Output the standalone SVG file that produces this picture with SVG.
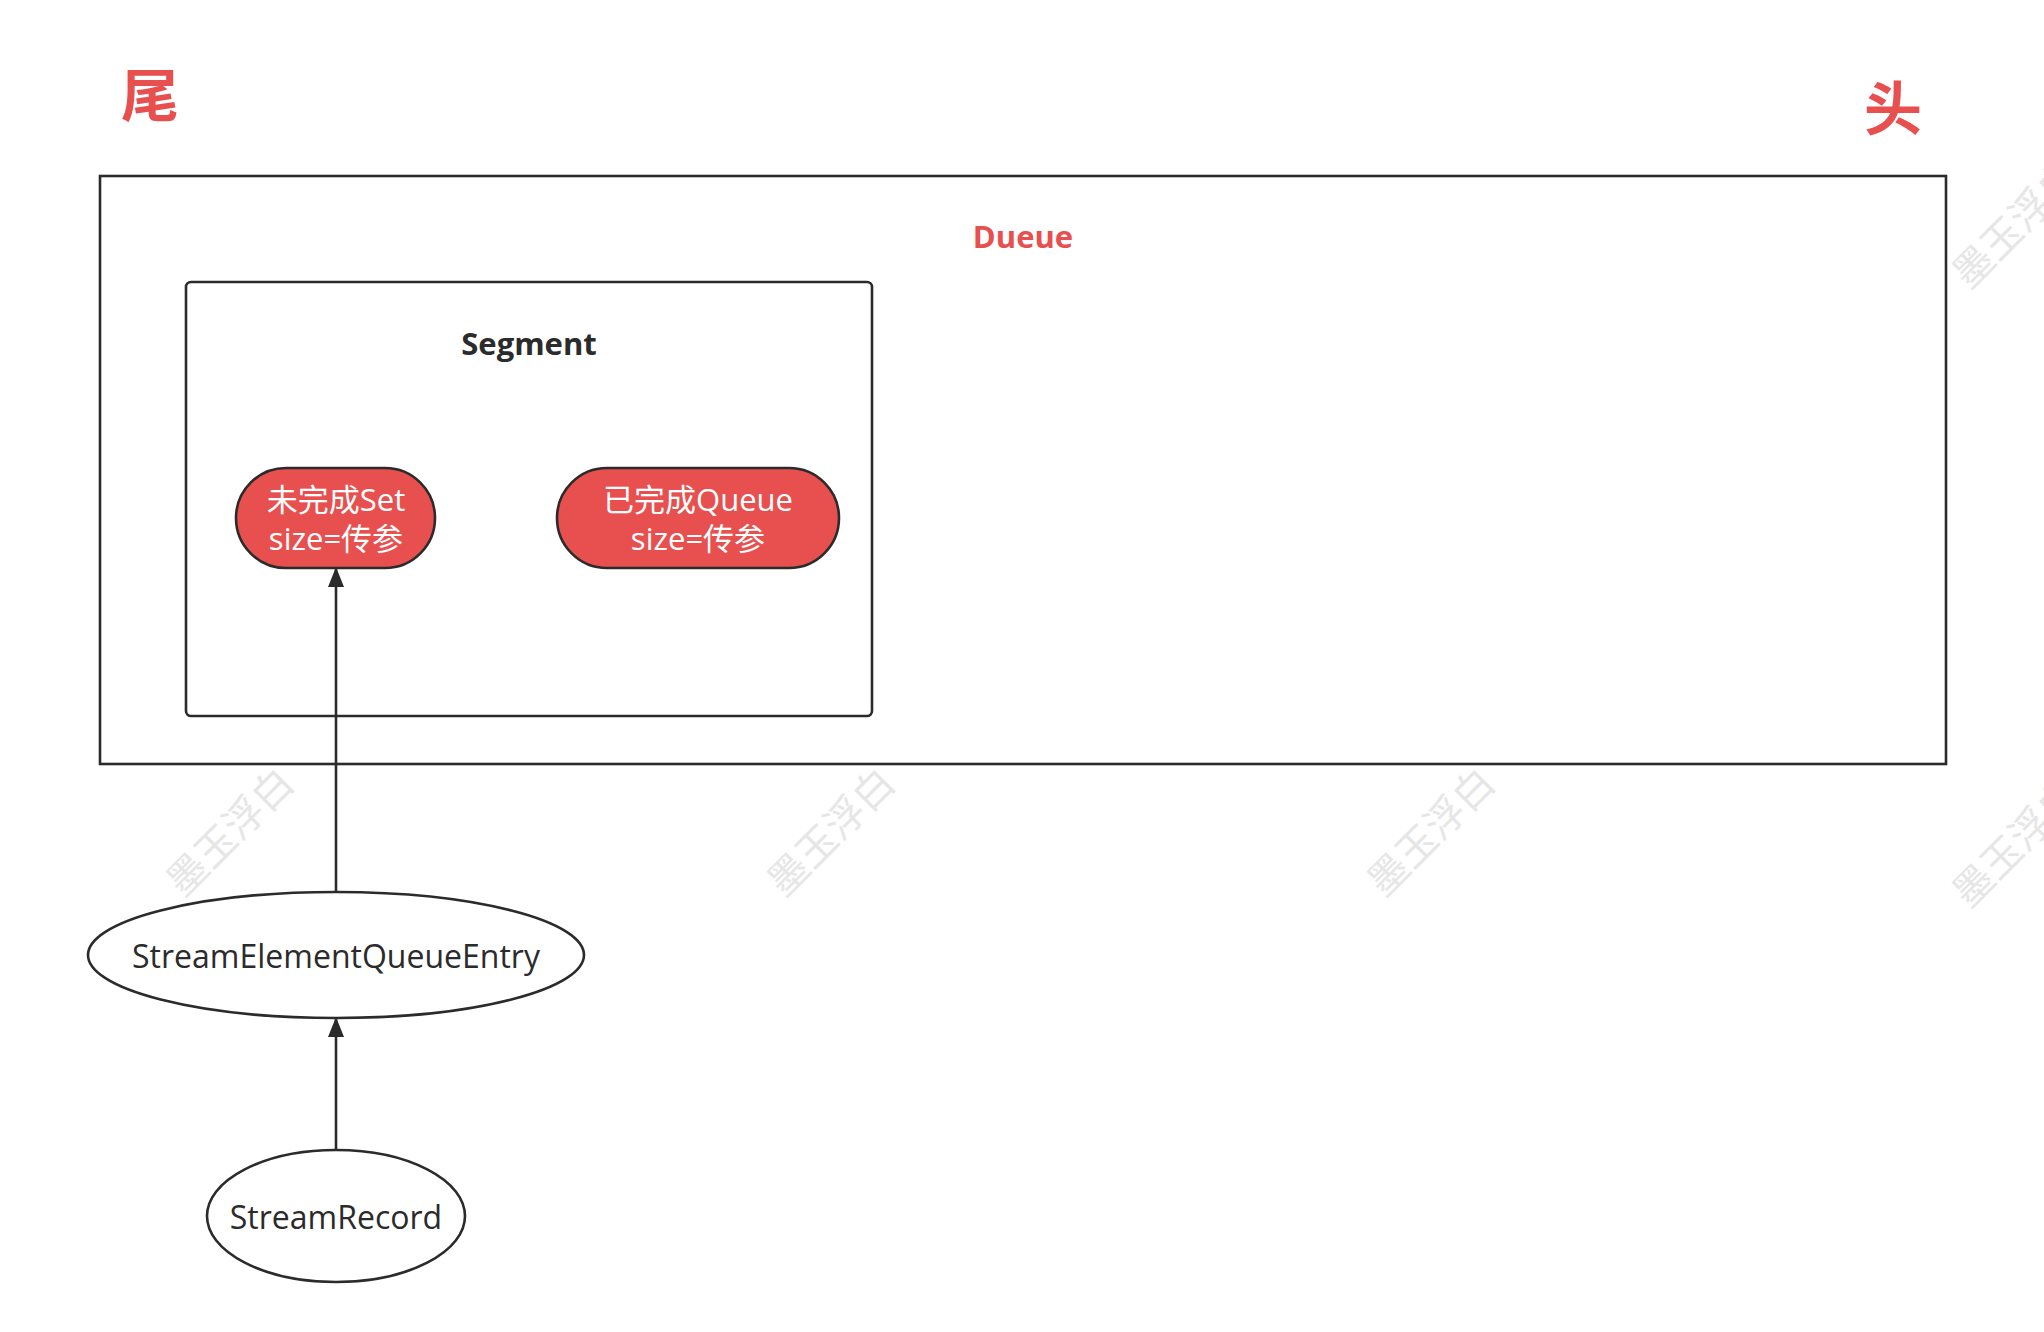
<svg xmlns="http://www.w3.org/2000/svg" width="2044" height="1332" viewBox="0 0 2044 1332">
<defs>
<style>
.t{font-family:"Open Sans","Noto Sans CJK SC",sans-serif;text-anchor:middle;dominant-baseline:central}
.box{fill:none;stroke:#2b2b2b;stroke-width:2.6}
.pill{fill:#e84f4f;stroke:#2b2b2b;stroke-width:2.6}
.wm{font-family:"Noto Sans CJK SC",sans-serif;font-size:40px;fill:#e6e6e6;text-anchor:middle;dominant-baseline:central}
</style>
<marker id="ah" viewBox="0 0 10 10" refX="9" refY="5" markerWidth="7" markerHeight="7" orient="auto" markerUnits="userSpaceOnUse">
<path d="M0,0 L10,5 L0,10 z" fill="#2b2b2b"/>
</marker>
<marker id="a" viewBox="0 0 10 10" refX="9" refY="5" markerWidth="20" markerHeight="20" orient="auto" markerUnits="userSpaceOnUse"><path d="M0,1 L10,5 L0,9 z" fill="#2b2b2b"/></marker>
</defs>
<rect width="2044" height="1332" fill="#fff"/>
<g id="watermarks">
<text class="wm" transform="translate(228,830) rotate(-45)">墨玉浮白</text>
<text class="wm" transform="translate(829,830) rotate(-45)">墨玉浮白</text>
<text class="wm" transform="translate(1429,830) rotate(-45)">墨玉浮白</text>
<text class="wm" transform="translate(2014,222) rotate(-45)">墨玉浮白</text>
<text class="wm" transform="translate(2014,841) rotate(-45)">墨玉浮白</text>
</g>
<g id="tail"><text class="t" x="150" y="94" font-size="58" font-weight="bold" fill="#e84f4f">尾</text></g>
<g id="head"><text class="t" x="1893" y="107" font-size="58" font-weight="bold" fill="#e84f4f">头</text></g>
<g id="dueue">
<rect class="box" x="100" y="176" width="1846" height="588"/>
<text class="t" x="1023" y="236" font-size="31" font-weight="bold" fill="#e84f4f">Dueue</text>
</g>
<g id="segment">
<rect class="box" x="186" y="282" width="686" height="434" rx="5"/>
<text class="t" x="529" y="343" font-size="31" font-weight="bold" fill="#2b2b2b">Segment</text>
</g>
<g id="unfinished">
<rect class="pill" x="236" y="468" width="199" height="100" rx="50"/>
<text class="t" x="336" y="499" font-size="31" fill="#fff">未完成Set</text>
<text class="t" x="336" y="538" font-size="31" fill="#fff">size=传参</text>
</g>
<g id="finished">
<rect class="pill" x="557" y="468" width="282" height="100" rx="50"/>
<text class="t" x="698" y="499" font-size="31" fill="#fff">已完成Queue</text>
<text class="t" x="698" y="538" font-size="31" fill="#fff">size=传参</text>
</g>
<g id="entry">
<ellipse class="box" cx="336" cy="955" rx="248" ry="63"/>
<text class="t" x="336" y="955" font-size="32" fill="#2b2b2b">StreamElementQueueEntry</text>
</g>
<g id="record">
<ellipse class="box" cx="336" cy="1216" rx="129" ry="66"/>
<text class="t" x="336" y="1216" font-size="32" fill="#2b2b2b">StreamRecord</text>
</g>
<g id="connectors" stroke="#2b2b2b" stroke-width="2.6" fill="none">
<line x1="336" y1="892" x2="336" y2="569" marker-end="url(#a)"/>
<line x1="336" y1="1150" x2="336" y2="1019" marker-end="url(#a)"/>
</g>
</svg>
